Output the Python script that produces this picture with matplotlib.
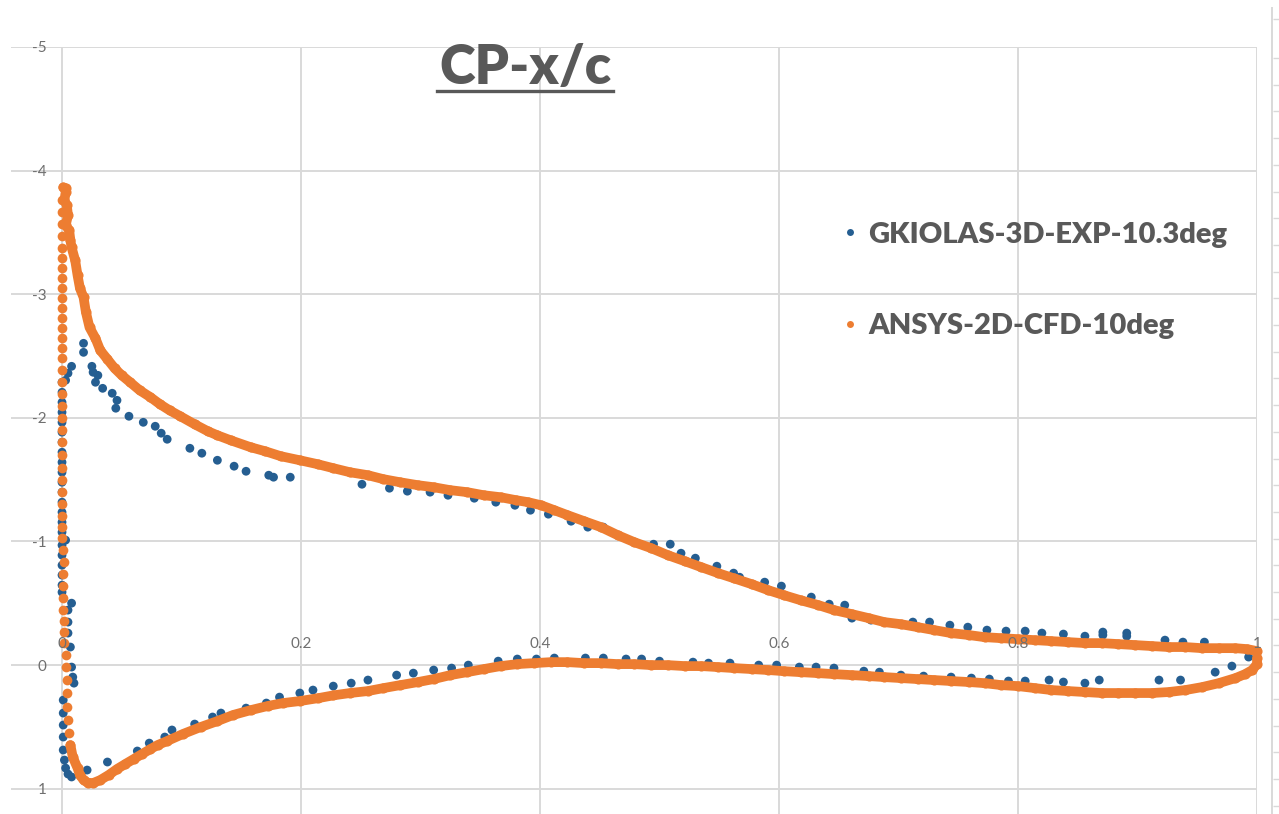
import matplotlib
matplotlib.use("Agg")
import matplotlib.pyplot as plt
from matplotlib.lines import Line2D

# ---------------- data ----------------
x_ticks = [0, 0.2, 0.4, 0.6, 0.8, 1.0]
x_tick_labels = ["0", "0.2", "0.4", "0.6", "0.8", "1"]
y_ticks = [-5, -4, -3, -2, -1, 0, 1]
y_tick_labels = ["-5", "-4", "-3", "-2", "-1", "0", "1"]

title = "CP-x/c"
exp_label = "GKIOLAS-3D-EXP-10.3deg"
cfd_label = "ANSYS-2D-CFD-10deg"

# ANSYS 2D CFD, suction side (leading-edge peak -> trailing edge)
cfd_upper_x = [0.001, 0.003, 0.003, 0.002, 0.004, 0.005, 0.003, 0.006, 0.007, 0.008,
               0.011, 0.013, 0.015, 0.018, 0.020, 0.023, 0.028, 0.032, 0.038, 0.044,
               0.050, 0.057, 0.065, 0.074, 0.082, 0.090, 0.099, 0.111, 0.122, 0.130,
               0.141, 0.158, 0.170, 0.183, 0.199, 0.214, 0.227, 0.241, 0.256, 0.269,
               0.283, 0.298, 0.311, 0.325, 0.339, 0.353, 0.367, 0.380, 0.390, 0.401,
               0.412, 0.423, 0.437, 0.451, 0.465, 0.479, 0.493, 0.507, 0.521, 0.535,
               0.549, 0.562, 0.577, 0.591, 0.604, 0.618, 0.633, 0.646, 0.661, 0.675,
               0.688, 0.702, 0.716, 0.730, 0.744, 0.759, 0.772, 0.786, 0.800, 0.814,
               0.828, 0.842, 0.856, 0.870, 0.884, 0.898, 0.912, 0.926, 0.940, 0.954,
               0.968, 0.982, 0.992, 1.000]
cfd_upper_cp = [-3.864, -3.856, -3.824, -3.759, -3.718, -3.638, -3.557, -3.517, -3.436, -3.379,
                -3.274, -3.153, -3.048, -2.975, -2.854, -2.732, -2.643, -2.546, -2.474, -2.401,
                -2.344, -2.288, -2.223, -2.167, -2.110, -2.061, -2.013, -1.948, -1.892, -1.859,
                -1.819, -1.762, -1.730, -1.690, -1.657, -1.625, -1.593, -1.560, -1.536, -1.504,
                -1.479, -1.455, -1.439, -1.415, -1.399, -1.374, -1.358, -1.334, -1.318, -1.293,
                -1.253, -1.213, -1.164, -1.116, -1.051, -0.994, -0.946, -0.889, -0.841, -0.792,
                -0.744, -0.703, -0.655, -0.606, -0.566, -0.525, -0.485, -0.445, -0.412, -0.380,
                -0.348, -0.331, -0.307, -0.283, -0.259, -0.243, -0.226, -0.218, -0.210, -0.202,
                -0.194, -0.186, -0.178, -0.178, -0.170, -0.162, -0.154, -0.146, -0.146, -0.137,
                -0.137, -0.137, -0.129, -0.113]

# ANSYS 2D CFD, pressure side (trailing edge -> stagnation region)
cfd_lower_x = [1.000, 1.000, 0.996, 0.990, 0.982, 0.968, 0.954, 0.940, 0.926, 0.912,
               0.898, 0.884, 0.870, 0.856, 0.842, 0.828, 0.814, 0.800, 0.786, 0.772,
               0.759, 0.744, 0.730, 0.716, 0.702, 0.688, 0.675, 0.661, 0.646, 0.633,
               0.618, 0.604, 0.591, 0.577, 0.562, 0.549, 0.535, 0.521, 0.507, 0.493,
               0.479, 0.465, 0.451, 0.437, 0.423, 0.409, 0.395, 0.381, 0.367, 0.353,
               0.339, 0.325, 0.311, 0.298, 0.283, 0.269, 0.256, 0.241, 0.227, 0.214,
               0.199, 0.185, 0.172, 0.158, 0.143, 0.130, 0.116, 0.101, 0.088, 0.080,
               0.074, 0.067, 0.060, 0.053, 0.046, 0.039, 0.032, 0.026, 0.022, 0.018,
               0.015, 0.013, 0.009, 0.007]
cfd_lower_cp = [-0.057, -0.008, 0.040, 0.073, 0.105, 0.146, 0.178, 0.202, 0.218, 0.226,
                0.226, 0.226, 0.226, 0.218, 0.210, 0.202, 0.186, 0.170, 0.162, 0.146,
                0.137, 0.129, 0.121, 0.113, 0.105, 0.097, 0.089, 0.081, 0.073, 0.065,
                0.057, 0.049, 0.040, 0.032, 0.024, 0.016, 0.008, 0.008, 0.000, 0.000,
                -0.008, -0.008, -0.016, -0.016, -0.024, -0.024, -0.016, -0.008, 0.008, 0.032,
                0.057, 0.081, 0.113, 0.137, 0.162, 0.186, 0.210, 0.226, 0.245, 0.268,
                0.291, 0.307, 0.331, 0.364, 0.404, 0.453, 0.501, 0.558, 0.614, 0.647,
                0.679, 0.719, 0.760, 0.800, 0.841, 0.889, 0.930, 0.954, 0.954, 0.930,
                0.889, 0.833, 0.744, 0.647]

# ANSYS 2D CFD, leading-edge points (x/c ~ 0)
cfd_le_x = [0.000, 0.000, 0.000, 0.000, 0.000, 0.000, 0.000, 0.000, 0.000, 0.000,
            0.000, 0.000, 0.000, 0.000, 0.000, 0.000, 0.000, 0.000, 0.000, 0.000,
            0.000, 0.000, 0.000, 0.000, 0.000, 0.000, 0.000, 0.000, 0.000, 0.000,
            0.000, 0.001, 0.002, 0.001, 0.001, 0.001, 0.001, 0.002, 0.002, 0.002,
            0.003, 0.003, 0.004, 0.004, 0.004, 0.005, 0.006]
cfd_le_cp = [-3.759, -3.662, -3.565, -3.468, -3.371, -3.290, -3.209, -3.129, -3.048, -2.967,
             -2.886, -2.805, -2.725, -2.643, -2.563, -2.482, -2.385, -2.288, -2.191, -2.094,
             -1.997, -1.900, -1.803, -1.698, -1.593, -1.496, -1.399, -1.302, -1.205, -1.116,
             -1.027, -0.930, -0.833, -0.736, -0.639, -0.542, -0.445, -0.356, -0.267, -0.178,
             -0.081, 0.016, 0.121, 0.226, 0.340, 0.445, 0.550]

# GKIOLAS 3D experiment, suction side
exp_upper_x = [0.000, 0.000, 0.000, 0.000, 0.000, 0.000, 0.000, 0.000, 0.000, 0.000,
               0.000, 0.000, 0.000, 0.000, 0.000, 0.000, 0.000, 0.000, 0.000, 0.000,
               0.000, 0.000,
               0.003, 0.005, 0.008, 0.018, 0.018, 0.025, 0.026, 0.030, 0.028, 0.034,
               0.042, 0.046, 0.045, 0.056, 0.068, 0.078, 0.083, 0.088, 0.107, 0.117,
               0.130, 0.144, 0.154, 0.173, 0.177, 0.191,
               0.251, 0.274, 0.289, 0.308, 0.323, 0.345, 0.363, 0.379, 0.392, 0.407,
               0.426, 0.440, 0.453,
               0.495, 0.509, 0.518, 0.530, 0.548, 0.562, 0.567, 0.588, 0.602, 0.627,
               0.642, 0.655, 0.661, 0.677, 0.712, 0.726, 0.743, 0.758, 0.774,
               0.790, 0.806, 0.820, 0.838, 0.856, 0.871, 0.871, 0.891, 0.891, 0.923,
               0.938, 0.956]
exp_upper_cp = [-2.288, -2.207, -2.126, -2.045, -1.964, -1.884, -1.803, -1.722, -1.641, -1.560,
                -1.479, -1.399, -1.318, -1.237, -1.156, -1.075, -0.970, -0.889, -0.808, -0.728,
                -0.647, -0.590,
                -2.304, -2.361, -2.417, -2.603, -2.530, -2.417, -2.369, -2.344, -2.288, -2.239,
                -2.199, -2.142, -2.078, -2.013, -1.964, -1.932, -1.876, -1.827, -1.754, -1.714,
                -1.657, -1.609, -1.568, -1.536, -1.520, -1.520,
                -1.463, -1.431, -1.407, -1.399, -1.374, -1.350, -1.318, -1.293, -1.253, -1.221,
                -1.164, -1.116, -1.116,
                -0.978, -0.978, -0.905, -0.865, -0.800, -0.744, -0.711, -0.671, -0.639, -0.550,
                -0.493, -0.485, -0.380, -0.364, -0.348, -0.348, -0.323, -0.307, -0.283,
                -0.275, -0.275, -0.259, -0.251, -0.234, -0.267, -0.243, -0.259, -0.234, -0.202,
                -0.186, -0.186]

# GKIOLAS 3D experiment, pressure side and leading-edge region
exp_lower_x = [0.993, 0.979, 0.965, 0.936, 0.918, 0.868, 0.856, 0.838, 0.826, 0.806,
               0.792, 0.776, 0.761, 0.744, 0.721, 0.702,
               0.684, 0.671, 0.646, 0.631, 0.617, 0.598, 0.583, 0.559, 0.541, 0.528,
               0.500, 0.485, 0.472, 0.453, 0.438, 0.412, 0.397, 0.381, 0.365, 0.340,
               0.326, 0.311, 0.294, 0.280, 0.256, 0.242, 0.227, 0.210, 0.199, 0.182,
               0.171, 0.154, 0.133, 0.126, 0.111, 0.092, 0.086, 0.073, 0.063, 0.038,
               0.021,
               0.005, 0.005, 0.005, 0.007, 0.008, 0.009, 0.010, 0.001, 0.001, 0.001,
               0.001, 0.001, 0.002, 0.003, 0.005, 0.008, 0.008, 0.003]
exp_lower_cp = [-0.065, 0.008, 0.057, 0.121, 0.121, 0.121, 0.146, 0.137, 0.121, 0.129,
                0.129, 0.113, 0.105, 0.097, 0.089, 0.081,
                0.057, 0.049, 0.024, 0.016, 0.016, 0.000, 0.000, -0.016, -0.016, -0.024,
                -0.032, -0.049, -0.049, -0.057, -0.057, -0.057, -0.049, -0.049, -0.032, 0.000,
                0.024, 0.040, 0.065, 0.081, 0.121, 0.146, 0.170, 0.202, 0.226, 0.259,
                0.307, 0.348, 0.388, 0.420, 0.477, 0.525, 0.582, 0.631, 0.695, 0.784,
                0.849,
                -0.445, -0.348, -0.259, -0.146, 0.016, 0.097, 0.146, 0.283, 0.388, 0.485,
                0.582, 0.687, 0.768, 0.833, 0.881, 0.905, -0.501, -1.011]

# ---------------- style ----------------
BLUE = "#255E91"
ORANGE = "#ED7D31"
GRID = "#d9d9d9"
TEXT = "#595959"

plt.rcParams["font.family"] = ["Lato", "DejaVu Sans"]
plt.rcParams["axes.unicode_minus"] = False

W, H = 1279, 814
fig = plt.figure(figsize=(W / 100, H / 100), dpi=100)
ax = fig.add_axes([11 / W, 0, (1257 - 11) / W, 1 - 47 / H])
ax.set_xlim(-0.0427, 1.0)
ax.set_ylim(1.2045, -5)

ax.set_xticks(x_ticks)
ax.set_xticklabels(x_tick_labels)
ax.set_yticks(y_ticks)
ax.set_yticklabels(y_tick_labels)

# gridlines below the data, tick labels above it
for xv in x_ticks:
    ax.axvline(xv, color=GRID, lw=1.4, zorder=0.5)
for yv in y_ticks:
    ax.axhline(yv, color=GRID, lw=1.4, zorder=0.5)
ax.xaxis.set_zorder(6)
ax.yaxis.set_zorder(6)

for s in ax.spines.values():
    s.set_visible(False)
ax.spines["left"].set_position(("data", 0))
ax.spines["top"].set_position(("data", 0))
ax.xaxis.set_ticks_position("top")
ax.yaxis.set_ticks_position("left")
ax.tick_params(axis="both", length=0, labelsize=11, labelcolor="#6f6f6f")
ax.tick_params(axis="x", pad=10)
ax.tick_params(axis="y", pad=11)

# experiment (blue) below, CFD (orange) on top
ax.scatter(exp_upper_x, exp_upper_cp, s=40, color=BLUE, edgecolors="none", zorder=3, clip_on=False)
ax.scatter(exp_lower_x, exp_lower_cp, s=40, color=BLUE, edgecolors="none", zorder=3, clip_on=False)

line_kw = dict(color=ORANGE, lw=7.0, marker="o", ms=7.3, mew=0,
               solid_capstyle="round", solid_joinstyle="round", zorder=4, clip_on=False)
ax.plot(cfd_upper_x, cfd_upper_cp, **line_kw)
ax.plot(cfd_lower_x, cfd_lower_cp, **line_kw)
ax.plot(cfd_le_x, cfd_le_cp, ls="none", marker="o", ms=7.0, mew=0, color=ORANGE,
        zorder=4, clip_on=False)

# legend
handles = [
    Line2D([], [], ls="none", marker="o", ms=5, mew=0, color=BLUE, label=exp_label),
    Line2D([], [], ls="none", marker="o", ms=5, mew=0, color=ORANGE, label=cfd_label),
]
leg = ax.legend(handles=handles, loc="upper left",
                bbox_to_anchor=(829 / W, 1 - 207 / H), bbox_transform=fig.transFigure,
                frameon=False, borderpad=0, handlelength=0.45, handletextpad=0.4,
                labelspacing=2.25, prop=dict(size=21, weight="heavy"))
leg.set_zorder(7)
for t in leg.get_texts():
    t.set_color(TEXT)

# title (underlined)
fig.text(525 / W, 1 - 68 / H, title, fontsize=39, fontweight="heavy", color=TEXT,
         ha="center", va="center")
fig.add_artist(Line2D([437 / W, 613 / W], [1 - 91 / H, 1 - 91 / H],
                      transform=fig.transFigure, color=TEXT, lw=2.4))

# thin ruler strip at the right edge of the screenshot
ax_r = fig.add_axes([1272 / W, 0, 0.0004, 1 - 8 / H])
ax_r.set_ylim(806 / 26.7, 0)
ax_r.set_xticks([])
ax_r.set_yticks([11 / 26.7] + [50 / 26.7 + k for k in range(29)])
ax_r.yaxis.set_ticks_position("right")
ax_r.tick_params(axis="y", length=4, width=1, color=GRID, labelright=False)
for name, s in ax_r.spines.items():
    s.set_visible(name == "left")
    s.set_color(GRID)
    s.set_linewidth(1.4)
ax_r.patch.set_visible(False)

fig.savefig("out.png", dpi=100)
